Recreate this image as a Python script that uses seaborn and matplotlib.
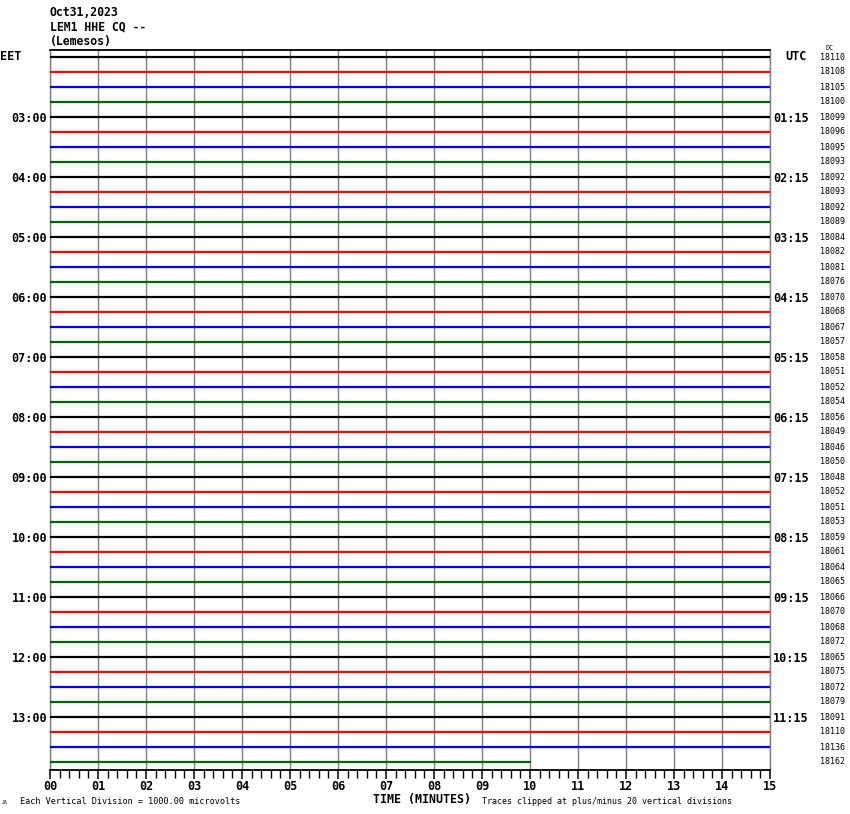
import numpy as np
import pandas as pd
import matplotlib
matplotlib.use("Agg")
import matplotlib.pyplot as plt
import seaborn as sns

# ---- data ----
title_lines = ["Oct31,2023", "LEM1 HHE CQ --", "(Lemesos)"]
eet_labels = ["03:00", "04:00", "05:00", "06:00", "07:00", "08:00",
              "09:00", "10:00", "11:00", "12:00", "13:00"]
utc_labels = ["01:15", "02:15", "03:15", "04:15", "05:15", "06:15",
              "07:15", "08:15", "09:15", "10:15", "11:15"]
dc_values = [18110, 18108, 18105, 18100, 18099, 18096, 18095, 18093,
             18092, 18093, 18092, 18089, 18084, 18082, 18081, 18076,
             18070, 18068, 18067, 18057, 18058, 18051, 18052, 18054,
             18056, 18049, 18046, 18050, 18048, 18052, 18051, 18053,
             18059, 18061, 18064, 18065, 18066, 18070, 18068, 18072,
             18065, 18075, 18072, 18079, 18091, 18110, 18136, 18162]
trace_colors = ["#000000", "#ff0000", "#0000ff", "#006400"]
full_trace_minutes = 15
last_trace_minutes = 10
minute_labels = ["%02d" % m for m in range(16)]

n_rows = len(dc_values)
rows, minutes = [], []
for r in range(n_rows):
    end = last_trace_minutes if r == n_rows - 1 else full_trace_minutes
    for m in (0, end):
        rows.append(r)
        minutes.append(m)
df = pd.DataFrame({"row": rows, "minute": minutes})
palette = {r: trace_colors[r % 4] for r in range(n_rows)}

sns.set_style("white")
plt.rcParams["font.family"] = ["DejaVu Sans Mono", "DejaVu Sans"]
plt.rcParams["text.color"] = "black"
plt.rcParams["xtick.color"] = "black"
plt.rcParams["xtick.labelcolor"] = "black"

W, H = 850, 814
fig = plt.figure(figsize=(W / 100, H / 100), dpi=100)
ax = fig.add_axes([50 / W, 1 - 770 / H, 720 / W, 720 / H])

sns.lineplot(data=df, x="minute", y="row", hue="row", palette=palette,
             estimator=None, sort=False, legend=False, linewidth=1.6,
             ax=ax, zorder=3)

ax.set_xlim(0, 15)
ax.set_ylim(48 - 7 / 15, -7 / 15)
ax.set_xlabel("")
ax.set_ylabel("")
ax.set_yticks([])
ax.set_xticks(range(16))
ax.set_xticklabels(minute_labels, fontsize=8.5, fontweight="bold")
ax.set_xticks(np.arange(0, 15.01, 0.2), minor=True)
ax.tick_params(axis="x", which="major", length=6.5, width=1.1, color="black",
               pad=0.5, bottom=True)
ax.tick_params(axis="x", which="minor", length=6, width=1.0, color="black",
               bottom=True)
ax.grid(axis="x", which="major", color="#808080", linewidth=1.0, zorder=1)
ax.set_axisbelow(True)
for s in ("left", "right"):
    ax.spines[s].set_visible(False)
ax.spines["top"].set_color("black")
ax.spines["top"].set_linewidth(1.3)
ax.spines["bottom"].set_color("black")
ax.spines["bottom"].set_linewidth(1.3)
for xe in (0, 15):
    ax.axvline(xe, color="#808080", linewidth=1.0, clip_on=False, zorder=1)

# left EET and right UTC labels
for i, lab in enumerate(eet_labels):
    r = 4 * (i + 1)
    ax.text(-0.06, r + 0.1, lab, ha="right", va="center", fontsize=8.5,
            fontweight="bold", clip_on=False)
for i, lab in enumerate(utc_labels):
    r = 4 * (i + 1)
    ax.text(15.07, r + 0.1, lab, ha="left", va="center", fontsize=8.5,
            fontweight="bold", clip_on=False)
ax.text(-50 / 48, 0, "EET", ha="left", va="center", fontsize=8.5,
        fontweight="bold", clip_on=False)
ax.text(15 + 15 / 48, 0, "UTC", ha="left", va="center", fontsize=8.5,
        fontweight="bold", clip_on=False)
for r, v in enumerate(dc_values):
    ax.text(15 + 50 / 48, r, str(v), ha="left", va="center", fontsize=6.0,
            clip_on=False)
fig.text(825 / W, 1 - 48 / H, "DC", ha="left", va="center", fontsize=4.8)

# titles
for i, t in enumerate(title_lines):
    fig.text(50 / W, 1 - (12 + 15 * i) / H, t, ha="left", va="center",
             fontsize=8.3, fontweight="bold")

# bottom notes
fig.text(20 / W, 1 - 801 / H, "Each Vertical Division = 1000.00 microvolts",
         ha="left", va="center", fontsize=6.1)
fig.text(373 / W, 1 - 800 / H, "TIME (MINUTES)", ha="left", va="center",
         fontsize=8.4, fontweight="bold")
fig.text(482 / W, 1 - 801 / H,
         "Traces clipped at plus/minus 20 vertical divisions",
         ha="left", va="center", fontsize=6.0)
fig.text(2 / W, 1 - 802 / H, "JA", ha="left", va="center", fontsize=3.5)

fig.savefig("out.png", dpi=100, facecolor="white")
